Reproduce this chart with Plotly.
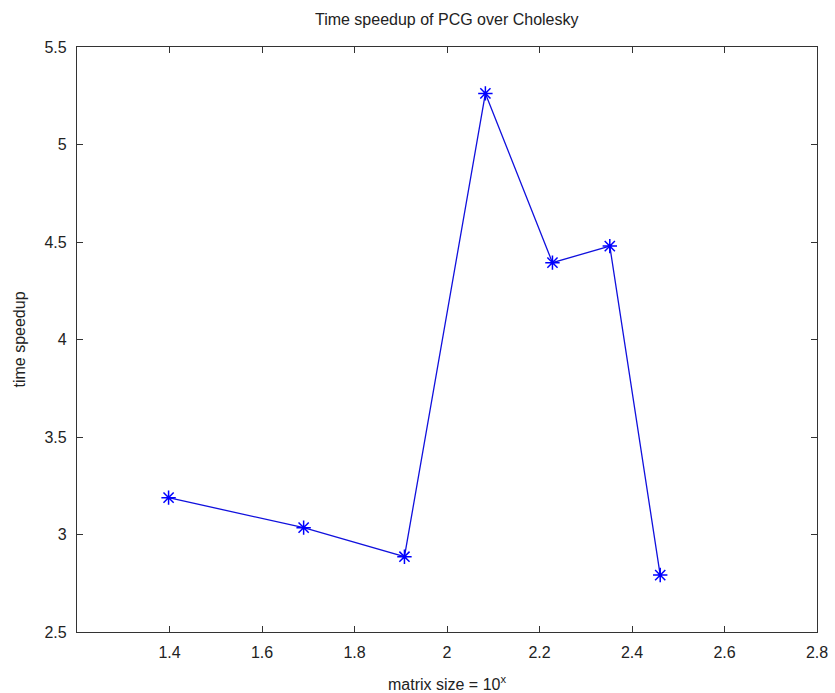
import plotly.graph_objects as go

matrix_size_log = [1.398, 1.690, 1.908, 2.083, 2.228, 2.352, 2.461]
time_speedup = [3.189, 3.035, 2.886, 5.262, 4.394, 4.479, 2.792]

x_ticks = [1.4, 1.6, 1.8, 2.0, 2.2, 2.4, 2.6, 2.8]
x_ticklabels = ["1.4", "1.6", "1.8", "2", "2.2", "2.4", "2.6", "2.8"]
y_ticks = [2.5, 3.0, 3.5, 4.0, 4.5, 5.0, 5.5]
y_ticklabels = ["2.5", "3", "3.5", "4", "4.5", "5", "5.5"]

font_family = "Liberation Sans, Arial, Helvetica, sans-serif"
axis_color = "#333333"

fig = go.Figure()
fig.add_trace(go.Scatter(
    x=matrix_size_log, y=time_speedup,
    mode="lines+markers",
    line=dict(color="#1010dd", width=1.3),
    marker=dict(symbol="asterisk-open", size=12, color="#0000ff",
                line=dict(color="#0000ff", width=1.5)),
    showlegend=False,
))

axis_common = dict(
    showgrid=False, zeroline=False, showline=True, linecolor=axis_color,
    linewidth=1.2, mirror="ticks", ticks="inside", ticklen=6,
    tickcolor=axis_color, tickwidth=1, automargin=False,
    tickfont=dict(family=font_family, size=16, color="#222222"),
)

fig.update_layout(
    width=835, height=693,
    margin=dict(l=77, r=18, t=47, b=61),
    paper_bgcolor="white", plot_bgcolor="white",
    font=dict(family=font_family, color="#222222"),
    title=dict(text="Time speedup of PCG over Cholesky", x=0.535, xanchor="center",
               y=1 - 19 / 693, yanchor="middle",
               font=dict(family=font_family, size=16, color="#222222")),
    xaxis=dict(range=[1.2, 2.8], tickvals=x_ticks, ticktext=x_ticklabels,
               ticklabelstandoff=6,
               title=dict(text="matrix size = 10<sup>x</sup>", standoff=20,
                          font=dict(family=font_family, size=16, color="#222222")),
               **axis_common),
    yaxis=dict(range=[2.5, 5.5], tickvals=y_ticks, ticktext=y_ticklabels,
               ticklabelstandoff=6,
               title=dict(text="time speedup", standoff=14,
                          font=dict(family=font_family, size=16, color="#222222")),
               **axis_common),
)

fig.write_html("out.html", config={"displayModeBar": False},
               post_script="document.body.style.margin='0';")
